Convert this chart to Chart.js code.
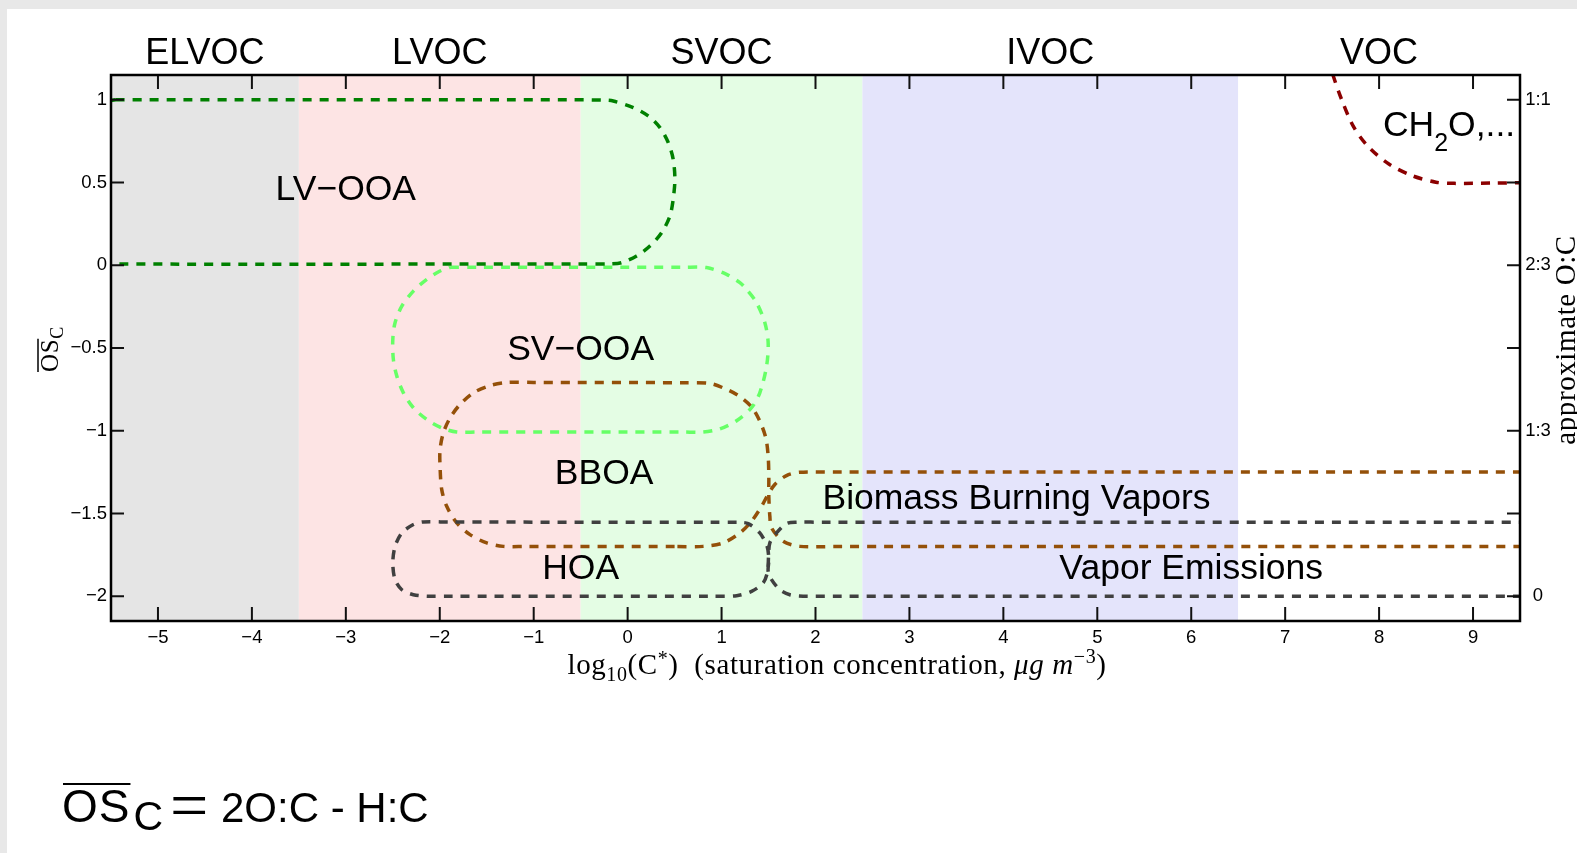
<!DOCTYPE html>
<html>
<head>
<meta charset="utf-8">
<script src="https://cdn.jsdelivr.net/npm/chart.js@4.4.1/dist/chart.umd.min.js"></script>
<style>
  html, body { margin: 0; padding: 0; background: #e8e8e8; overflow: hidden; }
  #sheet { position: absolute; left: 7px; top: 9px; right: 0; bottom: 0; background: #ffffff; }
  #wrap { position: absolute; left: 0; top: 0; width: 1577px; height: 853px; }
</style>
</head>
<body>
<div id="sheet"></div>
<div id="wrap"><canvas id="c"></canvas></div>
<script>
// Volatility classes along log10(C*)
const bandEdges  = [-5.5, -3.5, -0.5, 2.5, 6.5, 9.5];
const bandNames  = ['ELVOC', 'LVOC', 'SVOC', 'IVOC', 'VOC'];
const bandColors = ['#e5e5e5', '#fde4e4', '#e4fde4', '#e4e4fb', '#ffffff'];

// Axis ticks
const xTicks = [-5, -4, -3, -2, -1, 0, 1, 2, 3, 4, 5, 6, 7, 8, 9];
const xTickLabels = ['\u22125', '\u22124', '\u22123', '\u22122', '\u22121', '0', '1', '2', '3', '4', '5', '6', '7', '8', '9'];
const yTicks = [1, 0.5, 0, -0.5, -1, -1.5, -2];
const yTickLabels = ['1', '0.5', '0', '\u22120.5', '\u22121', '\u22121.5', '\u22122'];
const ocTicks = [1, 0, -1, -2];
const ocLabels = ['1:1', '2:3', '1:3', '0'];

// Factor outlines (log10 C*, mean carbon oxidation state)
const lvooaX = [-5.45, -0.6, -0.25, -0.153, 0.06, 0.219, 0.344, 0.432, 0.485, 0.503, 0.485, 0.45, 0.362, 0.237, 0.096, -0.064, -0.188, -0.5, -5.45, -5.6, -5.8, -5.95, -6.08, -6.15, -6.16, -6.13, -6.05, -5.92, -5.75, -5.6, -5.45];
const lvooaY = [1.0, 1.0, 0.998, 0.993, 0.953, 0.903, 0.832, 0.742, 0.641, 0.52, 0.399, 0.298, 0.197, 0.116, 0.056, 0.016, 0.008, 0.008, 0.008, 0.02, 0.07, 0.15, 0.27, 0.4, 0.52, 0.65, 0.77, 0.87, 0.95, 0.985, 1.0];

const svooaX = [-1.89, -1.6, 0.6, 0.84, 1.053, 1.195, 1.266, 1.372, 1.461, 1.496, 1.479, 1.407, 1.319, 1.16, 0.982, 0.804, 0.6, -1.6, -1.819, -1.979, -2.138, -2.281, -2.387, -2.457, -2.494, -2.5, -2.476, -2.404, -2.281, -2.138, -1.997, -1.89];
const svooaY = [-0.012, -0.012, -0.012, -0.014, -0.055, -0.105, -0.146, -0.226, -0.347, -0.468, -0.61, -0.771, -0.861, -0.94, -0.989, -1.008, -1.008, -1.008, -1.008, -0.983, -0.932, -0.861, -0.771, -0.67, -0.569, -0.448, -0.347, -0.247, -0.156, -0.085, -0.035, -0.012];

const bboaX = [0.5, -1.1, -1.323, -1.5, -1.678, -1.819, -1.926, -1.979, -1.997, -1.997, -1.962, -1.89, -1.784, -1.642, -1.465, -1.287, -1.0, 0.6, 0.876, 1.017, 1.177, 1.319, 1.407, 1.471, 1.496, 1.503, 1.503, 1.514, 1.532, 1.655, 1.833, 2.2, 9.7];
const bboaY = [-1.7, -1.7, -1.699, -1.678, -1.628, -1.557, -1.457, -1.356, -1.215, -1.114, -1.013, -0.922, -0.841, -0.771, -0.727, -0.708, -0.708, -0.71, -0.714, -0.741, -0.787, -0.856, -0.942, -1.043, -1.154, -1.275, -1.396, -1.517, -1.587, -1.668, -1.699, -1.7, -1.7];

const bbVaporX = [9.7, 2.2, 1.833, 1.691, 1.567, 1.485, 1.426, 1.319, 1.195, 1.017, 0.804, 0.5];
const bbVaporY = [-1.25, -1.25, -1.251, -1.271, -1.325, -1.396, -1.457, -1.547, -1.618, -1.678, -1.699, -1.7];

const hoaX = [1.16, 0.9, -1.9, -2.174, -2.281, -2.404, -2.476, -2.5, -2.476, -2.404, -2.281, -2.138, -1.9, 0.9, 1.16, 1.319, 1.443, 1.49, 1.5, 1.514, 1.585, 1.691, 1.798, 2.1, 9.7];
const hoaY = [-1.553, -1.553, -1.552, -1.551, -1.567, -1.618, -1.699, -1.799, -1.9, -1.961, -1.991, -2.0, -2.0, -2.0, -1.997, -1.971, -1.92, -1.85, -1.76, -1.678, -1.618, -1.561, -1.553, -1.553, -1.553];

const vaporX = [9.7, 2.2, 1.868, 1.727, 1.62, 1.532, 1.496, 1.503, 1.485, 1.407, 1.283, 1.16];
const vaporY = [-2.0, -2.0, -2.0, -1.991, -1.961, -1.9, -1.85, -1.779, -1.699, -1.618, -1.561, -1.553];

const ch2oX = [7.4, 7.514, 7.603, 7.729, 7.889, 8.104, 8.354, 8.605, 8.8, 9.2, 9.7];
const ch2oY = [1.35, 1.141, 0.999, 0.836, 0.714, 0.612, 0.541, 0.502, 0.495, 0.497, 0.5];

// Region names placed inside the outlines
const regionNames = ['LV\u2212OOA', 'SV\u2212OOA', 'BBOA', 'HOA', 'Biomass Burning Vapors', 'Vapor Emissions'];
const regionX = [-3.0, -0.5, -0.25, -0.5, 4.14, 6.0];
const regionY = [0.47, -0.5, -1.25, -1.82, -1.4, -1.82];

const SANS = '"Liberation Sans", Arial, Helvetica, sans-serif';
const SERIF = '"Liberation Serif", "Times New Roman", serif';

function pts(xs, ys) { return xs.map((x, i) => ({ x: x, y: ys[i] })); }

function outline(label, xs, ys, color) {
  return {
    label: label,
    data: pts(xs, ys),
    borderColor: color,
    backgroundColor: color,
    borderWidth: 3.5,
    borderDash: [9, 8],
    pointRadius: 0,
    pointHoverRadius: 0,
    tension: 0.3,
    capBezierPoints: false,
    fill: false,
    clip: 0
  };
}

// Draws a sequence of differently styled text pieces on one line
function drawRuns(ctx, runs, x, y, align) {
  let total = 0;
  runs.forEach(r => { ctx.font = r.font; r.w = ctx.measureText(r.t).width; total += r.w; });
  let cx = align === 'center' ? x - total / 2 : x;
  const spans = [];
  runs.forEach(r => {
    ctx.font = r.font;
    ctx.fillText(r.t, cx, y + (r.dy || 0));
    spans.push([cx, cx + r.w]);
    cx += r.w;
  });
  return spans;
}

const bandsPlugin = {
  id: 'bands',
  beforeDatasetsDraw(chart) {
    const { ctx, chartArea: a, scales: { x } } = chart;
    ctx.save();
    for (let i = 0; i < bandNames.length; i++) {
      const x0 = x.getPixelForValue(bandEdges[i]);
      const x1 = x.getPixelForValue(bandEdges[i + 1]);
      ctx.fillStyle = bandColors[i];
      ctx.fillRect(x0, a.top, x1 - x0, a.bottom - a.top);
    }
    ctx.restore();
  }
};

const framePlugin = {
  id: 'frame',
  afterDatasetsDraw(chart) {
    const { ctx, chartArea: a, scales: { x, y } } = chart;
    ctx.save();

    // inward tick marks
    ctx.strokeStyle = '#111';
    ctx.lineWidth = 2;
    ctx.beginPath();
    xTicks.forEach(v => {
      const px = x.getPixelForValue(v);
      ctx.moveTo(px, a.bottom); ctx.lineTo(px, a.bottom - 14);
      ctx.moveTo(px, a.top); ctx.lineTo(px, a.top + 14);
    });
    yTicks.forEach(v => {
      const py = y.getPixelForValue(v);
      ctx.moveTo(a.left, py); ctx.lineTo(a.left + 13, py);
      ctx.moveTo(a.right, py); ctx.lineTo(a.right - 13, py);
    });
    ctx.stroke();

    // axes box
    ctx.strokeStyle = '#000';
    ctx.lineWidth = 2.5;
    ctx.strokeRect(a.left, a.top, a.right - a.left, a.bottom - a.top);

    ctx.fillStyle = '#000';

    // tick labels
    ctx.font = '18.5px ' + SANS;
    ctx.textBaseline = 'middle';
    ctx.textAlign = 'center';
    xTicks.forEach((v, i) => ctx.fillText(xTickLabels[i], x.getPixelForValue(v), a.bottom + 17));
    ctx.textAlign = 'right';
    yTicks.forEach((v, i) => ctx.fillText(yTickLabels[i], a.left - 4, y.getPixelForValue(v)));
    ctx.textAlign = 'center';
    ocTicks.forEach((v, i) => ctx.fillText(ocLabels[i], a.right + 18, y.getPixelForValue(v)));

    // volatility class names above the frame
    ctx.font = '36px ' + SANS;
    bandNames.forEach((n, i) => {
      const c = (bandEdges[i] + bandEdges[i + 1]) / 2;
      ctx.fillText(n, x.getPixelForValue(c), a.top - 21);
    });

    // factor names
    ctx.font = '35.5px ' + SANS;
    regionNames.forEach((n, i) => ctx.fillText(n, x.getPixelForValue(regionX[i]), y.getPixelForValue(regionY[i]) + 2.5));

    // CH2O label with subscript
    ctx.textAlign = 'left';
    ctx.textBaseline = 'alphabetic';
    const chBase = y.getPixelForValue(0.86) + 13;
    drawRuns(ctx, [
      { t: 'CH', font: '35.5px ' + SANS },
      { t: '2', font: '25px ' + SANS, dy: 15 },
      { t: 'O,...', font: '35.5px ' + SANS }
    ], x.getPixelForValue(8.03) + 1, chBase, 'left');

    // x axis title
    if ('letterSpacing' in ctx) ctx.letterSpacing = '0.6px';
    const fs = 29;
    drawRuns(ctx, [
      { t: 'log', font: fs + 'px ' + SERIF },
      { t: '10', font: Math.round(fs * 0.7) + 'px ' + SERIF, dy: 7 },
      { t: '(C', font: fs + 'px ' + SERIF },
      { t: '*', font: Math.round(fs * 0.7) + 'px ' + SERIF, dy: -9 },
      { t: ')  (saturation concentration, ', font: fs + 'px ' + SERIF },
      { t: '\u03bcg', font: 'italic ' + fs + 'px ' + SERIF },
      { t: ' ', font: fs + 'px ' + SERIF },
      { t: 'm', font: 'italic ' + fs + 'px ' + SERIF },
      { t: '\u22123', font: Math.round(fs * 0.7) + 'px ' + SERIF, dy: -11 },
      { t: ')', font: fs + 'px ' + SERIF }
    ], 837, 674, 'center');

    // right axis title
    ctx.save();
    ctx.translate(1575, 340);
    ctx.rotate(-Math.PI / 2);
    drawRuns(ctx, [{ t: 'approximate O:C', font: fs + 'px ' + SERIF }], 0, 0, 'center');
    ctx.restore();

    // left axis title: overlined OS with subscript C
    ctx.save();
    ctx.translate(58, 349);
    ctx.rotate(-Math.PI / 2);
    const sp = drawRuns(ctx, [
      { t: 'OS', font: '25px ' + SERIF },
      { t: 'C', font: '18px ' + SERIF, dy: 5 }
    ], 0, 0, 'center');
    ctx.lineWidth = 1.5;
    ctx.beginPath();
    ctx.moveTo(sp[0][0], -20); ctx.lineTo(sp[0][1], -20);
    ctx.stroke();
    ctx.restore();

    if ('letterSpacing' in ctx) ctx.letterSpacing = '0px';

    // definition of the oxidation state below the chart
    const base = 822;
    ctx.font = '46px ' + SANS;
    if ('letterSpacing' in ctx) ctx.letterSpacing = '1px';
    ctx.fillText('OS', 62, base);
    const wOS = ctx.measureText('OS').width;
    if ('letterSpacing' in ctx) ctx.letterSpacing = '0px';
    ctx.lineWidth = 2;
    ctx.beginPath();
    ctx.moveTo(63, base - 38); ctx.lineTo(62 + wOS, base - 38);
    ctx.stroke();
    ctx.font = '41px ' + SANS;
    ctx.fillText('C', 62 + wOS + 3, base + 8);
    ctx.font = '68px ' + SERIF;
    ctx.fillText('=', 170, base + 6);
    ctx.font = '42px ' + SANS;
    ctx.fillText('2O:C - H:C', 221, base);

    ctx.restore();
  }
};

new Chart(document.getElementById('c'), {
  type: 'line',
  data: {
    datasets: [
      outline('LV-OOA', lvooaX, lvooaY, '#008000'),
      outline('SV-OOA', svooaX, svooaY, '#66ff66'),
      outline('HOA', hoaX, hoaY, '#404040'),
      outline('Vapor Emissions', vaporX, vaporY, '#404040'),
      outline('BBOA', bboaX, bboaY, '#945009'),
      outline('Biomass Burning Vapors', bbVaporX, bbVaporY, '#945009'),
      outline('CH2O', ch2oX, ch2oY, '#8b0000')
    ]
  },
  options: {
    responsive: true,
    maintainAspectRatio: false,
    animation: false,
    events: [],
    layout: { padding: { left: 111, right: 57, top: 75, bottom: 232 } },
    plugins: { legend: { display: false }, tooltip: { enabled: false } },
    scales: {
      x: { type: 'linear', min: -5.5, max: 9.5, display: false },
      y: { type: 'linear', min: -2.15, max: 1.15, display: false }
    }
  },
  plugins: [bandsPlugin, framePlugin]
});
</script>
</body>
</html>
